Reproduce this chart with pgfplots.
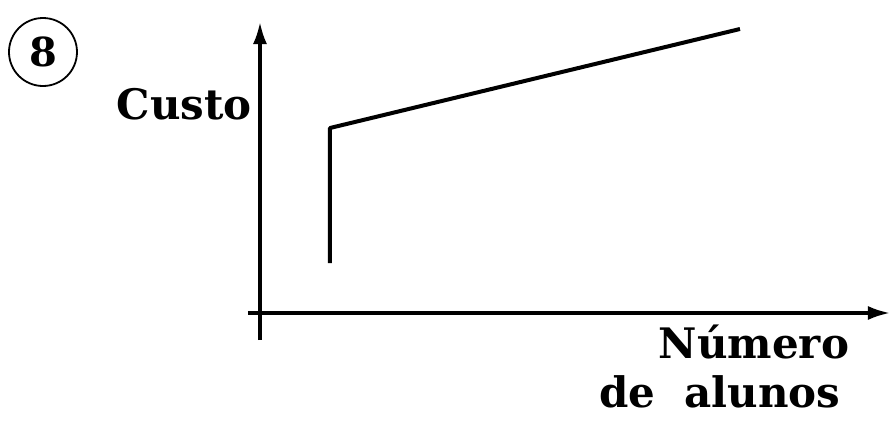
\documentclass[border=0pt]{standalone}
\usepackage{pgfplots}
\pgfplotsset{compat=1.18}
\usepackage{fontspec}
\setmainfont{DejaVu Serif}
\usetikzlibrary{arrows.meta}

\begin{document}
\begin{tikzpicture}
\begin{axis}[
  scale only axis,
  width=321pt, height=159pt,
  xmin=-12, xmax=630,
  ymin=-27, ymax=291,
  enlargelimits=false,
  axis lines=middle,
  axis line style={line width=1.6pt, -{Latex[length=11pt,width=7pt]}},
  xtick=\empty, ytick=\empty,
  clip=false,
]
% page extent (reference is 896x430 px, 1 px = 0.5 pt)
\path (axis cs:-260,-117) rectangle (axis cs:636,313);

% cost: fixed jump, then rising linearly with the number of students
\addplot[line width=2pt, black, line join=round] coordinates {
  (70,50) (70,185) (480,284)
};

\node[anchor=east, inner sep=0pt, font=\fontsize{21}{25}\selectfont\bfseries]
  at (axis cs:-8,209) {Custo};
\node[anchor=base, inner sep=0pt, font=\fontsize{21}{25}\selectfont\bfseries]
  at (axis cs:494,-45) {Número};
\node[anchor=base, inner sep=0pt, font=\fontsize{21}{25}\selectfont\bfseries]
  at (axis cs:460,-94) {de\ \ alunos};

\node[circle, draw, line width=0.9pt, minimum size=34pt, inner sep=0pt,
  font=\fontsize{20}{24}\selectfont\bfseries]
  at (axis cs:-217,261) {8};
\end{axis}
\end{tikzpicture}
\end{document}
